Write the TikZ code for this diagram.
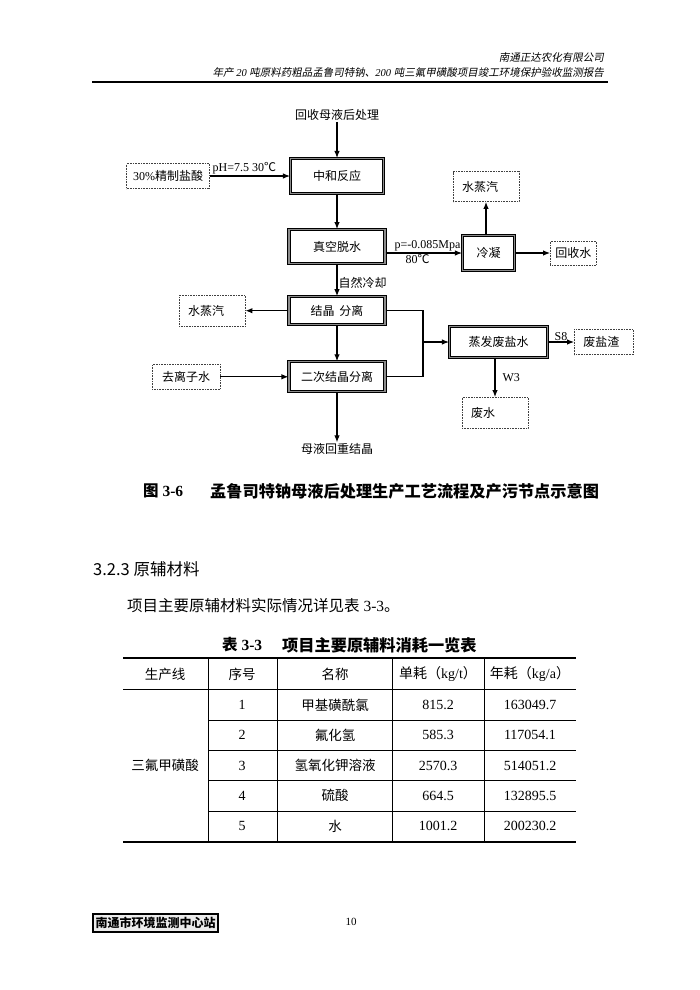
\documentclass[tikz,border=0pt]{standalone}
\usepackage{fontspec}
\setmainfont{Liberation Serif}
\newfontfamily\cjk{Noto Sans CJK SC}
\newfontfamily\cjkit[FakeSlant=0.2]{Noto Sans CJK SC}
\usetikzlibrary{positioning,arrows.meta}

\begin{document}
\begin{tikzpicture}[x=1pt, y=-1pt,
                    wh/.style 2 args={minimum width=#1, minimum height=#2}]
    \tikzstyle{proc}=[rectangle, draw, line width=1.1pt, double=black!45, double distance=1.1pt, inner sep=0pt, font=\cjk\fontsize{12}{14}\selectfont]
    \tikzstyle{note}=[rectangle, draw=black!75, densely dotted, line width=0.6pt, inner sep=0pt, font=\cjk\fontsize{12}{14}\selectfont]
    \tikzstyle{lnote}=[note, inner xsep=9pt, align=left]
    \tikzstyle{connect}=[-{Latex[length=7pt,width=5.5pt]}, line width=1.1pt]
    \tikzstyle{lbl}=[inner sep=1pt, font=\fontsize{12}{14}\selectfont]
    \tikzstyle{clbl}=[inner sep=1pt, font=\cjk\fontsize{12}{14}\selectfont]
    \tikzstyle{cell}=[inner sep=0pt, font=\fontsize{14}{16}\selectfont]
    \tikzstyle{ccell}=[inner sep=0pt, font=\cjk\fontsize{13.5}{16}\selectfont]

    \fill[white] (0,0) rectangle (700,990);
    \path[use as bounding box] (0,0) rectangle (700,990);

    % page header
    \node[anchor=east, inner sep=0pt, font=\cjkit\fontsize{10.5}{12}\selectfont] (company) at (604,58) {南通正达农化有限公司};
    \node[anchor=east, inner sep=0pt, font=\itshape\fontsize{10.5}{12}\selectfont] (project) at (604,73)
      {{\cjkit 年产} 20 {\cjkit 吨原料药粗品孟鲁司特钠、}200 {\cjkit 吨三氟甲磺酸项目竣工环境保护验收监测报告}};
    \draw[line width=1.2pt] (92,82) -- (608,82);

    % flow chart
    \node[proc, wh={93pt}{35pt}] (zhonghe) at (337,176) {中和反应\hspace{10pt}};
    \node[proc, wh={96pt}{34pt}] (zhenkong) [below=35pt of zhonghe] {真空脱水};
    \node[proc, wh={96pt}{28pt}] (jiejing) [below=32pt of zhenkong] {结晶\hspace{5pt}分离};
    \node[proc, wh={96pt}{30pt}] (erci) [below=36pt of jiejing] {二次结晶分离};
    \node[proc, wh={52pt}{35pt}] (lengning) at (488.5,253) {冷凝};
    \node[proc, wh={98pt}{31pt}] (zhengfa) at (498.5,342) {蒸发废盐水};

    \node[note, wh={83pt}{25pt}] (yansuan) [left=80pt of zhonghe] {{\rmfamily 30\%}精制盐酸};
    \node[lnote, text width=48pt, wh={66pt}{30pt}] (steamtop) [above=33pt of lengning, xshift=-2.5pt] {水蒸汽};
    \node[note, wh={46pt}{24pt}] (huishou) [right=35pt of lengning] {回收水};
    \node[lnote, text width=48pt, wh={66pt}{31pt}] (steamleft) [left=43pt of jiejing] {水蒸汽};
    \node[note, wh={68pt}{25pt}] (qulizi) [left=68pt of erci] {去离子水};
    \node[lnote, text width=41pt, wh={59pt}{25pt}] (feizha) [right=26pt of zhengfa] {废盐渣};
    \node[lnote, text width=48pt, wh={66pt}{31pt}] (feishui) [below=39pt of zhengfa, xshift=-3.5pt] {废水};

    \node[clbl] (src) [above=36pt of zhonghe] {回收母液后处理};
    \node[clbl] (muye) [below=50pt of erci] {母液回重结晶};
    \coordinate (join) at (423,342);

    \path
      (src) edge [connect] (zhonghe)
      (yansuan) edge [connect] node[lbl, above, pos=0.43] {pH=7.5 30{\cjk ℃}} (zhonghe)
      (zhonghe) edge [connect] (zhenkong)
      (zhenkong) edge [connect] node[clbl, right, pos=0.6] {自然冷却} (jiejing)
      (jiejing) edge [connect] (steamleft)
      (jiejing) edge [connect] (erci)
      (qulizi) edge [connect] (erci)
      (erci) edge [connect] (muye)
      (lengning) edge [connect] (huishou)
      (join) edge [connect] (zhengfa)
      (zhengfa) edge [connect] node[lbl, above] {S8} (feizha);
    \draw[connect] (zhenkong.east |- lengning.west) -- node[lbl, above, pos=0.55] {p=-0.085Mpa}
                   node[lbl, below, pos=0.42] {80{\cjk ℃}} (lengning.west);
    \draw[connect] (steamtop.south |- lengning.north) -- (steamtop.south);
    \draw[connect] (feishui.north |- zhengfa.south) -- node[lbl, right=6pt] {W3} (feishui.north);
    \draw[line width=1.1pt] (jiejing.east) -| (join) |- (erci.east);

    % caption and text
    \node[anchor=west, inner sep=0pt, font=\bfseries\fontsize{15.5}{17}\selectfont] (figno) at (143,491) {{\cjk 图} 3-6};
    \node[anchor=west, inner sep=0pt, font=\cjk\bfseries\fontsize{16.2}{18}\selectfont] (figcap) at (210,491) {孟鲁司特钠母液后处理生产工艺流程及产污节点示意图};
    \node[anchor=west, inner sep=0pt, font=\cjk\fontsize{16.5}{18}\selectfont] (sec) at (93,569) {3.2.3 原辅材料};
    \node[anchor=west, inner sep=0pt, font=\fontsize{15.5}{18}\selectfont] (para) at (127,606) {{\cjk 项目主要原辅材料实际情况详见表} 3-3{\cjk 。}};
    \node[anchor=west, inner sep=0pt, font=\bfseries\fontsize{15.5}{17}\selectfont] (tabno) at (222,645) {{\cjk 表} 3-3};
    \node[anchor=west, inner sep=0pt, font=\cjk\bfseries\fontsize{16.2}{18}\selectfont] (tabcap) at (282,645) {项目主要原辅料消耗一览表};

    % table
    \draw[line width=1.5pt] (123,658) -- (576,658);
    \draw[line width=0.6pt] (123,689) -- (576,689);
    \draw[line width=0.6pt] (208,720) -- (576,720) (208,750) -- (576,750)
                            (208,780) -- (576,780) (208,811) -- (576,811);
    \draw[line width=1.5pt] (123,842) -- (576,842);
    \draw[line width=0.6pt] (208,658) -- (208,842) (277,658) -- (277,842)
                            (392,658) -- (392,842) (484,658) -- (484,842);
    \node[ccell] (hline) at (165,674) {生产线};
    \node[ccell] (hno) at (242,674) {序号};
    \node[ccell] (hname) at (335,674) {名称};
    \node[cell] (hunit) at (438,674) {{\cjk 单耗（}kg/t{\cjk ）}};
    \node[cell] (hyear) at (530,674) {{\cjk 年耗（}kg/a{\cjk ）}};
    \node[ccell] (line) at (165,765) {三氟甲磺酸};
    \foreach \n/\name/\unit/\year [count=\r] in {1/甲基磺酰氯/815.2/163049.7, 2/氟化氢/585.3/117054.1,
        3/氢氧化钾溶液/2570.3/514051.2, 4/硫酸/664.5/132895.5, 5/水/1001.2/200230.2}
    {
      \pgfmathsetmacro\yy{705+30.25*(\r-1)}
      \node[cell] (no\r) at (242,\yy) {\n};
      \node[ccell] (name\r) at (335,\yy) {\name};
      \node[cell] (unit\r) at (438,\yy) {\unit};
      \node[cell] (year\r) at (530,\yy) {\year};
    }

    % footer
    \node[draw, fill=black!8, line width=1.2pt, wh={125pt}{18pt}, inner sep=0pt, font=\cjk\bfseries\fontsize{12}{13}\selectfont] (station) at (155.5,923) {南通市环境监测中心站};
    \node[inner sep=0pt, font=\fontsize{11}{12}\selectfont] (pageno) at (351,922) {10};
\end{tikzpicture}
\end{document}
